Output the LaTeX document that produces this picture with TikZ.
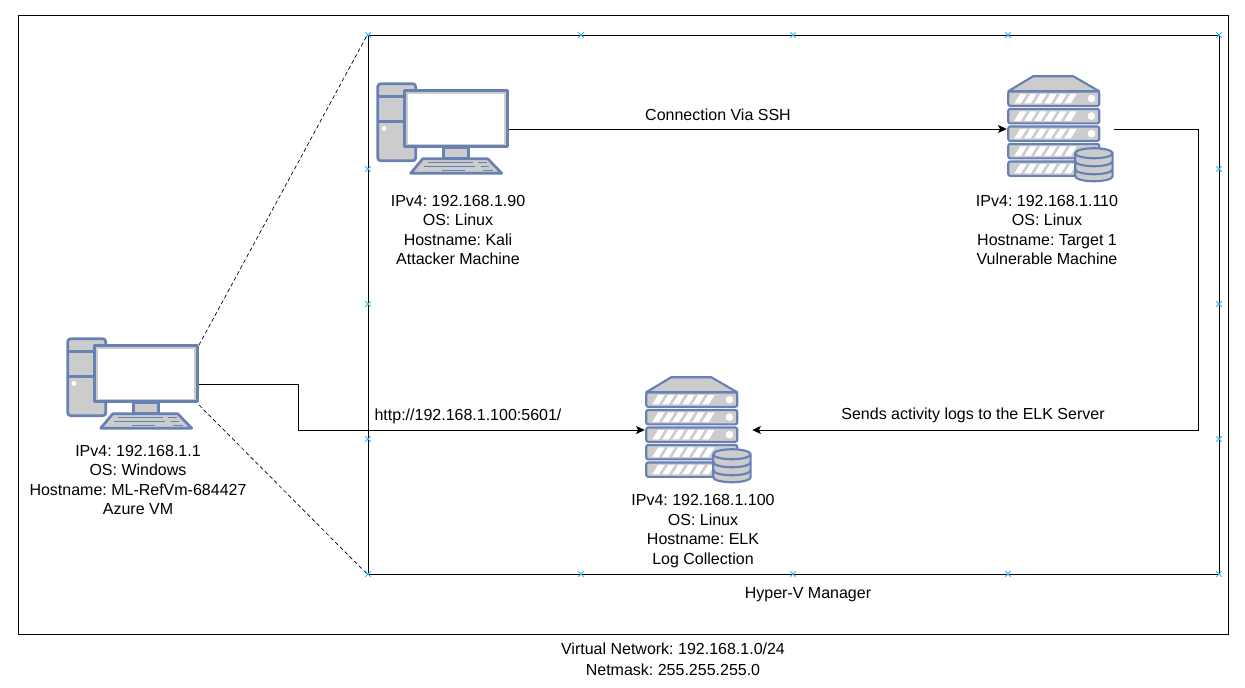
\documentclass[tikz,border=0pt]{standalone}
\usepackage{fontspec}
\setmainfont{Liberation Sans}
\usepackage{tikz}
\usetikzlibrary{arrows.meta,shapes.misc}
\definecolor{iconblue}{HTML}{6881B3}
\definecolor{icongrey}{HTML}{CCCCCC}
\definecolor{handle}{HTML}{29B6F2}
\frenchspacing
\tikzstyle{line} = [draw, line width=0.75pt, -{Stealth[length=6.5pt,width=6pt,inset=1.5pt]}]
\tikzstyle{pcbox} = [minimum width=99pt,minimum height=69pt,inner sep=0pt]
\tikzstyle{serverbox} = [minimum width=80.25pt,minimum height=80.25pt,inner sep=0pt]
\tikzstyle{txt} = [align=center,inner sep=0pt,font=\fontsize{12}{14.6}\selectfont]
\tikzstyle{xmark} = [draw=handle,cross out,minimum size=3.5pt,inner sep=0pt,line width=0.6pt]
\tikzset{
  pcicon/.pic={
    \begin{scope}[draw=iconblue,line width=2pt,line join=round]
      \draw[fill=icongrey,rounded corners=2.2pt] (1,1) rectangle (39,78);
      \draw (1,14) -- (30,14) (1,39) -- (30,39);
      \fill[white] (7.3,45.7) circle (2.4);
      \draw[fill=icongrey] (67,65) rectangle (92,76);
      \draw[fill=icongrey] (46,76) -- (111,76) -- (125,90.5) -- (34,90.5) -- cycle;
      \draw[line width=1.3pt] (51,79.7) -- (96,79.7) (101,79.7) -- (110,79.7)
         (47,83.7) -- (98,83.7) (104,83.7) -- (112,83.7)
         (65,87.7) -- (88,87.7) (106,87.7) -- (116,87.7);
      \draw[fill=icongrey] (28,8) rectangle (131,64);
      \fill[white] (31.5,11.5) rectangle (127.5,61);
    \end{scope}
  },
  servericon/.pic={
    \begin{scope}[draw=iconblue,line width=1.6pt,line join=round,shift={(0.5,1)}]
      \draw[fill=icongrey] (26,0) -- (66,0) -- (92,15) -- (1,15) -- cycle;
      \foreach \k in {0,1,2,3,4} {
        \begin{scope}[yshift={-\k*13.125pt}]
          \draw[fill=icongrey,rounded corners=1.5pt] (1,15.2) rectangle (92,29.6);
          \foreach \i in {0,...,5}
            \fill[white] (7+\i*10,27.2) -- (13.5+\i*10,27.2) -- (19.5+\i*10,17.6) -- (13+\i*10,17.6) -- cycle;
          \fill[white] (84.2,22.4) circle (3.8);
        \end{scope}
      }
      \draw[fill=icongrey] (68,77) -- (68,100) arc[x radius=18.7,y radius=-5,start angle=180,end angle=360]
         -- (105.4,77) arc[x radius=18.7,y radius=-5,start angle=0,end angle=180] -- cycle;
      \draw (68,77) arc[x radius=18.7,y radius=-5,start angle=180,end angle=360];
      \draw (68,85) arc[x radius=18.7,y radius=-5,start angle=180,end angle=360];
      \draw (68,93) arc[x radius=18.7,y radius=-5,start angle=180,end angle=360];
    \end{scope}
  }
}
\begin{document}
\begin{tikzpicture}[x=0.75pt,y=-0.75pt]
    \useasboundingbox[fill=white] (0,0) rectangle (1245,687);

    \node[draw=black,line width=0.75pt,minimum width=907.5pt,minimum height=464.25pt,inner sep=0pt] (frame) at (623,324.5) {};
    \node[draw=black,line width=0.75pt,minimum width=638.25pt,minimum height=404.25pt,inner sep=0pt] (hyperv) at (793.5,304.5) {};

    % handles on the hyper-v box
    \foreach \x in {368,581,793,1008,1219} {
        \node[xmark] (top\x) at (\x,35) {};
        \node[xmark] (bot\x) at (\x,574) {};
    }
    \foreach \y in {169,304,439} {
        \node[xmark] (lft\y) at (368,\y) {};
        \node[xmark] (rgt\y) at (1219,\y) {};
    }

    \node[pcbox] (vm) at (133,384) {};
    \pic at (vm.north west) {pcicon};
    \node[pcbox] (kali) at (443,129) {};
    \pic at (kali.north west) {pcicon};
    \node[serverbox] (target) at (1060.5,129) {};
    \pic at (target.north west) {servericon};
    \node[serverbox] (elk) at (698.5,430) {};
    \pic at (elk.north west) {servericon};

    \node[txt] (vmtxt) at (138,480) {IPv4: 192.168.1.1\\OS: Windows\\Hostname: ML-RefVm-684427\\Azure VM};
    \node[txt] (kalitxt) at (458,230) {IPv4: 192.168.1.90\\OS: Linux\\Hostname: Kali\\Attacker Machine};
    \node[txt] (targettxt) at (1047,230) {IPv4: 192.168.1.110\\OS: Linux\\Hostname: Target 1\\Vulnerable Machine};
    \node[txt] (elktxt) at (703,531) {IPv4: 192.168.1.100\\OS: Linux\\Hostname: ELK\\Log Collection};

    \node[txt] (ssh) at (718,115) {Connection Via SSH};
    \node[txt] (http) at (468,416) {http://192.168.1.100:5601/};
    \node[txt] (sends) at (973,415) {Sends activity logs to the ELK Server};
    \node[txt] (hvname) at (808,595) {Hyper-V Manager};
    \node[txt,font=\fontsize{12}{16}\selectfont] (subnet) at (673,659) {Virtual Network: 192.168.1.0/24\\Netmask: 255.255.255.0};

    \coordinate (vmtop) at (199,345);
    \coordinate (vmbot) at (199,405);
    \draw[densely dashed,line width=0.5pt] (vmtop) -- (hyperv.north west);
    \draw[densely dashed,line width=0.5pt] (vmbot) -- (hyperv.south west);

    \path[line] (kali.east) -- (target.west);
    \path[line] (target.east) -| (1198,430) -- (elk.east);
    \path[line] (vm.east) -| (298,430) -- (elk.west);

\end{tikzpicture}
\end{document}
